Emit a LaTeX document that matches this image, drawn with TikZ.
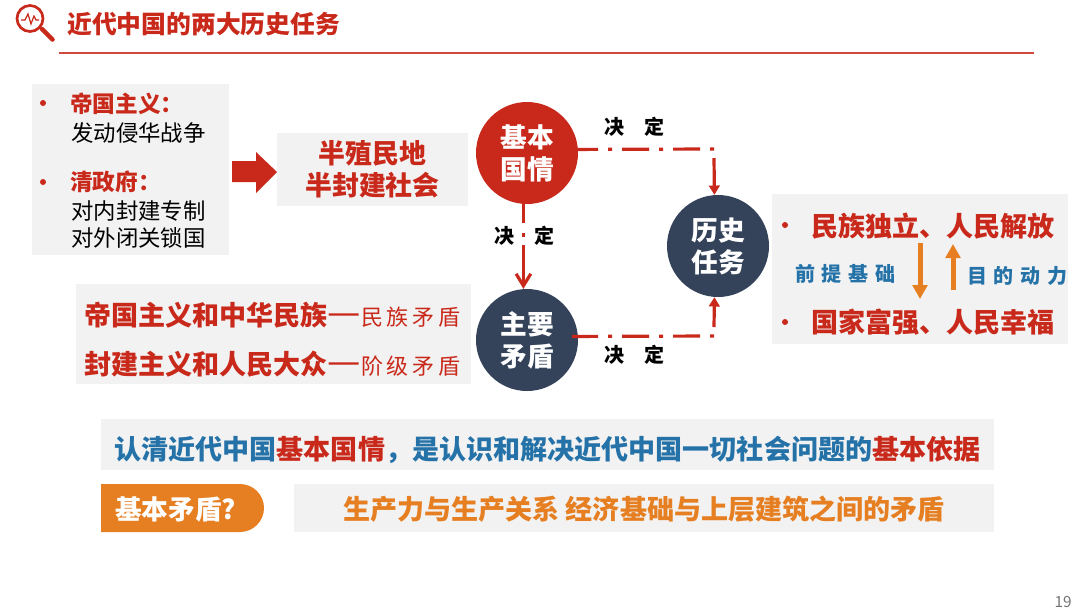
\documentclass[tikz,border=0pt]{standalone}
\usepackage{fontspec}
\usepackage{xcolor}
\usepackage{tikz}
\usetikzlibrary{calc,arrows.meta,positioning,shapes.misc}
\setmainfont{Noto Sans CJK SC}
\definecolor{mainc}{HTML}{C9291A}
\definecolor{darkc}{HTML}{34435A}
\definecolor{orgc}{HTML}{E67F22}
\definecolor{bluec}{HTML}{2472A8}
\definecolor{softbg}{HTML}{F2F2F2}
\newcommand{\thinpart}[1]{{\fontsize{28}{24}\selectfont\mdseries —}{\fontsize{16.5}{24}\selectfont\mdseries #1}}
\tikzset{
  greybox/.style={fill=softbg,inner sep=0pt},
  ball/.style={circle,minimum size=76.5pt,inner sep=0pt,text=white,align=center,font=\fontsize{20}{24}\selectfont\bfseries},
  redt/.style={text=mainc,inner sep=0pt,font=\fontsize{20.3}{24}\selectfont\bfseries},
  subt/.style={inner sep=0pt,font=\fontsize{16.8}{18}\selectfont},
  bluet/.style={text=bluec,inner sep=0pt,anchor=west,font=\fontsize{15}{18}\selectfont\bfseries},
  dot/.style={circle,fill=mainc,inner sep=0pt,minimum size=4.5pt},
  dec/.style={inner sep=0pt,font=\fontsize{15}{18}\selectfont\bfseries},
  dd/.style={mainc,line width=2.4pt,dash pattern=on 20.25pt off 7.5pt on 3pt off 7.5pt},
  ar/.style={mainc,line width=2.4pt,-{Triangle[length=7pt,width=8pt]}},
  og/.style={orgc,line width=3.75pt,-{Triangle[length=10.5pt,width=11pt]}}
}
\begin{document}
\begin{tikzpicture}[x=0.75pt,y=-0.75pt]
\useasboundingbox (0,0) rectangle (1080,608);
% title
\draw[mainc,line width=2pt] (30,18.5) circle (13);
\draw[mainc,line width=3.4pt,line cap=round] (42,29) -- (52.5,39.5);
\draw[mainc,line width=0.9pt] (21,20) -- (25,20) -- (28,14) -- (31,24) -- (34,16) -- (36,20) -- (39,20);
\node[text=mainc,inner sep=0pt,anchor=west,font=\fontsize{18.6}{22}\selectfont\bfseries] (ttl) at (67,24) {近代中国的两大历史任务};
\draw[mainc!85,line width=0.8pt] (59,53) -- (1034,53);
% left column
\node[greybox,minimum width=147.75pt,minimum height=128.25pt] (lbox) at (130.5,169.5) {};
\node[dot] (d1) at (43,103) {};
\node[dot] (d2) at (43,182) {};
\node[redt,anchor=west,font=\fontsize{17}{22}\selectfont\bfseries] (dgzy) at (70,104) {帝国主义：};
\node[subt,anchor=west] (fd) at (71,133) {发动侵华战争};
\node[redt,anchor=west,font=\fontsize{17}{22}\selectfont\bfseries] (qzf) at (70,182) {清政府：};
\node[subt,anchor=west] (dn) at (71,211) {对内封建专制};
\node[subt,anchor=west] (dw) at (71,238) {对外闭关锁国};
\fill[mainc] (232,161) -- (256,161) -- (256,152) -- (277,172) -- (256,193) -- (256,182) -- (232,182) -- cycle;
\node[greybox,minimum width=143.25pt,minimum height=54.75pt] (bzm) at (372.5,169.5) {};
\node[redt,align=center,font=\fontsize{20.2}{24}\selectfont\bfseries] (bzmt) at (372.5,169) {半殖民地\\半封建社会};
\node[greybox,minimum width=296.25pt,minimum height=75pt] (mdbox) at (273.5,334) {};
\node[redt,anchor=west] (md1) at (84,315) {帝国主义和中华民族\thinpart{民\,族\,矛\,盾}};
\node[redt,anchor=west] (md2) at (84,364) {封建主义和人民大众\thinpart{阶\,级\,矛\,盾}};
% circles
\node[ball,fill=mainc] (jbgq) at (527,153) {基本\\国情};
\node[ball,fill=darkc] (zymd) at (527,340) {主要\\矛盾};
\node[ball,fill=darkc] (lsrw) at (718,246) {历史\\任务};
\coordinate (tr) at (714,149);
\coordinate (trs) at (714,158);
\coordinate (br) at (714,336);
\coordinate (brs) at (714,327);
\draw[dd,dash phase=5.25pt] (jbgq.4) -- (tr);
\draw[ar] (trs) -- (lsrw.94);
\draw[dd,dash phase=0.75pt,shorten <=-4.5pt] (zymd.4) -- (br);
\draw[ar] (brs) -- (lsrw.-94);
\draw[mainc,line width=2.4pt,dash pattern=on 14pt off 7.5pt on 3pt off 6pt on 40pt,-{Straight Barb[length=9pt,width=11pt]}] (jbgq.-94) -- (zymd.94);
\node[dec] (dj1) at (634,127) {决\hspace{1em}定};
\node[dec] (dj2) at (524,236) {决\hspace{1em}定};
\node[dec] (dj3) at (634,355) {决\hspace{1em}定};
% right column
\node[greybox,minimum width=222pt,minimum height=112.5pt] (rbox) at (920,269) {};
\node[dot] (d3) at (785,225) {};
\node[dot] (d4) at (785,322) {};
\node[redt,anchor=west] (mz) at (811,226) {民族独立、人民解放};
\node[redt,anchor=west] (gj) at (811,322) {国家富强、人民幸福};
\coordinate (oa) at (920,243);
\coordinate (ob) at (920,299);
\coordinate (oc) at (953,290);
\coordinate (od) at (953,244);
\draw[og] (oa) -- (ob);
\draw[og] (oc) -- (od);
\node[bluet] (qt) at (795,274) {前\hspace{5pt}提\hspace{5pt}基\hspace{5pt}础};
\node[bluet] (md) at (967,276) {目\hspace{5pt}的\hspace{5pt}动\hspace{5pt}力};
% bottom
\node[greybox,minimum width=669.75pt,minimum height=38.25pt] (gbox) at (547.5,444.5) {};
\node[text=bluec,inner sep=0pt,font=\fontsize{20.3}{24}\selectfont\bfseries] (gt) at (547.5,450) {认清近代中国{\color{mainc}基本国情}，是认识和解决近代中国一切社会问题的{\color{mainc}基本依据}};
\node[rounded rectangle,rounded rectangle west arc=none,fill=orgc,inner sep=0pt,minimum width=122.25pt,minimum height=36pt] (pill) at (182.5,508) {};
\node[text=white,inner sep=0pt,anchor=west,font=\fontsize{20}{24}\selectfont\bfseries] (pt) at (115,509) {基本矛盾?};
\node[greybox,minimum width=525pt,minimum height=36pt] (jbox) at (644,508) {};
\node[text=orgc,inner sep=0pt,font=\fontsize{20.3}{24}\selectfont\bfseries] (jt) at (644,509) {生产力与生产关系 经济基础与上层建筑之间的矛盾};
\node[text=black!55,inner sep=0pt,font=\fontsize{11.5}{12}\selectfont] (pg) at (1063,602) {19};
\end{tikzpicture}
\end{document}
